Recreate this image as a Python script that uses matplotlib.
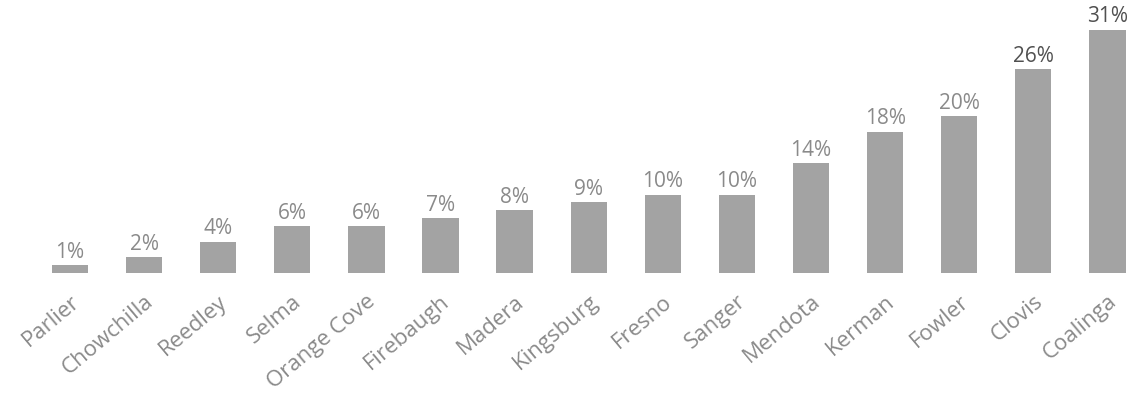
import matplotlib
matplotlib.use("Agg")
import matplotlib.pyplot as plt
from matplotlib.transforms import ScaledTranslation

cities = ["Parlier", "Chowchilla", "Reedley", "Selma", "Orange Cove", "Firebaugh",
          "Madera", "Kingsburg", "Fresno", "Sanger", "Mendota", "Kerman", "Fowler",
          "Clovis", "Coalinga"]
values = [1, 2, 4, 6, 6, 7, 8, 9, 10, 10, 14, 18, 20, 26, 31]
labels = [f"{v}%" for v in values]

fig = plt.figure(figsize=(11.37, 4.01), dpi=100)
ax = fig.add_axes([33 / 1137, 128 / 401, 1104 / 1137, 273 / 401])
x = list(range(len(cities)))
ax.bar(x, values, width=0.49, color="#a3a3a3")
ax.set_xlim(-0.5, 14.4)
ax.set_ylim(0, 34.8)
for xi, v, lab in zip(x, values, labels):
    col = "#505050" if v >= 26 else "#8a8a8a"
    ax.text(xi, v + 0.3, lab, ha="center", va="bottom", fontsize=15,
            color=col, family="Open Sans")
ax.set_xticks(x)
ax.set_xticklabels(cities, rotation=40, ha="right", rotation_mode="anchor",
                   fontsize=16, color="#8a8a8a", family="Open Sans")
off = ScaledTranslation(7 / 100, 0, fig.dpi_scale_trans)
for t in ax.get_xticklabels():
    t.set_transform(t.get_transform() + off)
ax.tick_params(axis="x", length=0, pad=13)
ax.set_yticks([])
for s in ax.spines.values():
    s.set_visible(False)
fig.savefig("out.png", dpi=100)
